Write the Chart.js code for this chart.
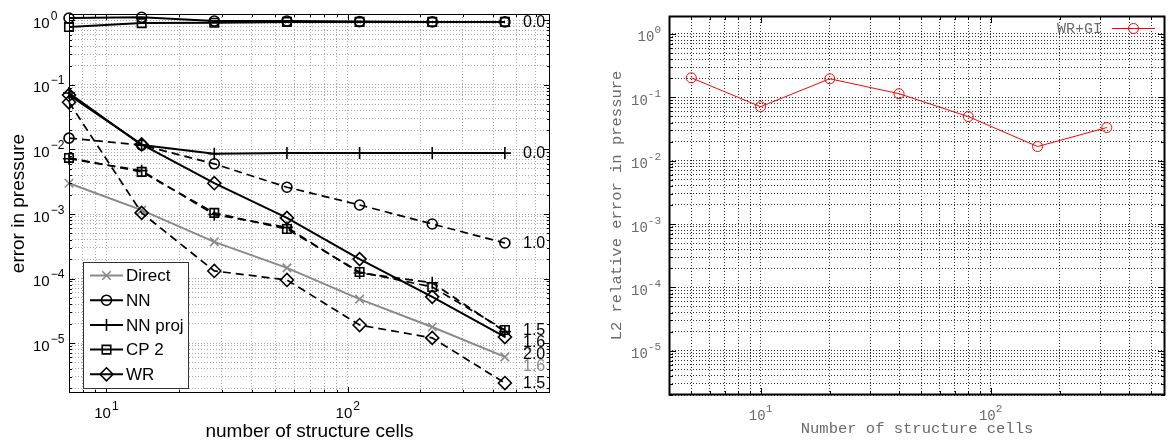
<!DOCTYPE html>
<html><head><meta charset="utf-8">
<script src="https://cdn.jsdelivr.net/npm/chart.js@4.4.0/dist/chart.umd.min.js"></script>
<style>
html,body{margin:0;padding:0;background:#fff;}
#wrap{position:relative;width:1171px;height:443px;overflow:hidden;background:#fff;}
#c1{position:absolute;left:0;top:0;}
#c2{position:absolute;left:585px;top:0;}
</style></head><body>
<div id="wrap"><canvas id="c1" width="585" height="443"></canvas><canvas id="c2" width="586" height="443"></canvas></div>
<script>
// ---------- data (left panel) ----------
const cellsLeft     = [7, 14, 28, 56, 112, 224, 448];
const directErr     = [3.0e-3, 1.15e-3, 3.7e-4, 1.46e-4, 4.8e-5, 1.77e-5, 6.1e-6];
const nnErr         = [1.09, 1.12, 0.98, 0.98, 0.96, 0.95, 0.95];
const nnErrDash     = [1.5e-2, 1.17e-2, 6.0e-3, 2.6e-3, 1.38e-3, 7.0e-4, 3.55e-4];
const nnProjErr     = [7.5e-2, 1.17e-2, 8.6e-3, 8.8e-3, 8.8e-3, 8.8e-3, 8.8e-3];
const nnProjErrDash = [7.2e-3, 4.7e-3, 9.8e-4, 6.2e-4, 1.22e-4, 8.6e-5, 1.5e-5];
const cp2Err        = [0.79, 0.91, 0.92, 0.95, 0.95, 0.95, 0.95];
const cp2ErrDash    = [7.4e-3, 4.5e-3, 1.04e-3, 5.85e-4, 1.26e-4, 7.4e-5, 1.59e-5];
const wrErr         = [7.0e-2, 1.2e-2, 3.0e-3, 8.7e-4, 2.0e-4, 5.2e-5, 1.24e-5];
const wrErrDash     = [5.4e-2, 1.04e-3, 1.31e-4, 9.5e-5, 1.9e-5, 1.2e-5, 2.4e-6];
const legendNames   = ['Direct', 'NN', 'NN proj', 'CP 2', 'WR'];
const rateDirect = '1.6', rateNN = '0.0', rateNNDash = '1.0', rateNNProj = '0.0',
      rateNNProjDash = '1.6', rateCP2Dash = '1.5', rateWR = '2.0', rateWRDash = '1.5';
const tickBase = '10';
const leftXTickVals = [10, 100];
const leftXTickExp  = ['1', '2'];
const leftYTickVals = [1e-5, 1e-4, 1e-3, 1e-2, 1e-1, 1];
const leftYTickExp  = ['\u22125', '\u22124', '\u22123', '\u22122', '\u22121', '0'];

// ---------- data (right panel) ----------
const cellsRight = [5, 10, 20, 40, 80, 160, 320];
const wrGiErr    = [0.203, 0.071, 0.196, 0.114, 0.0496, 0.0167, 0.0333];
const rightXTickVals = [10, 100];
const rightXTickExp  = ['1', '2'];
const rightYTickVals = [1e-5, 1e-4, 1e-3, 1e-2, 1e-1, 1];
const rightYTickExp  = ['-5', '-4', '-3', '-2', '-1', '0'];

// ---------- helpers ----------
function logTicks(min, max) {
  const out = [];
  for (let e = Math.floor(Math.log10(min)); e <= Math.ceil(Math.log10(max)); e++) {
    for (let m = 1; m <= 9; m++) {
      const v = parseFloat((m * Math.pow(10, e)).toPrecision(12));
      if (v >= min * 0.999999 && v <= max * 1.000001) out.push(v);
    }
  }
  return out;
}
function isPow10(v) { const l = Math.log10(v); return Math.abs(l - Math.round(l)) < 1e-9; }
function setLogTicks(scale) {
  scale.ticks = logTicks(scale.min, scale.max).map(v => ({ value: v }));
}
function drawMarker(ctx, style, r, x, y) {
  ctx.beginPath();
  if (style === 'circle') { ctx.arc(x, y, r, 0, Math.PI * 2); }
  else if (style === 'rect') { const s = r * Math.SQRT1_2; ctx.rect(x - s, y - s, 2 * s, 2 * s); }
  else if (style === 'rectRot') { ctx.moveTo(x, y - r); ctx.lineTo(x + r, y); ctx.lineTo(x, y + r); ctx.lineTo(x - r, y); ctx.closePath(); }
  else if (style === 'cross') { ctx.moveTo(x - r, y); ctx.lineTo(x + r, y); ctx.moveTo(x, y - r); ctx.lineTo(x, y + r); }
  else if (style === 'crossRot') { const s = r * Math.SQRT1_2; ctx.moveTo(x - s, y - s); ctx.lineTo(x + s, y + s); ctx.moveTo(x + s, y - s); ctx.lineTo(x - s, y + s); }
  ctx.stroke();
}
function showErr(ctx, e) { ctx.save(); ctx.fillStyle = 'red'; ctx.font = '12px sans-serif'; ctx.fillText(String(e && e.message || e), 80, 40); ctx.restore(); }

// frame with inward ticks on all four sides
const frameTicks = {
  id: 'frameTicks',
  afterDatasetsDraw(chart, args, o) {
    const { ctx, chartArea: a, scales: { x, y } } = chart;
    ctx.save();
    ctx.strokeStyle = o.color;
    ctx.lineWidth = o.tickWidth;
    ctx.setLineDash([]);
    ctx.beginPath();
    x.ticks.forEach(t => {
      const px = Math.round(x.getPixelForValue(t.value)) + 0.5;
      const len = isPow10(t.value) ? o.major : o.minor;
      ctx.moveTo(px, a.bottom); ctx.lineTo(px, a.bottom - len);
      ctx.moveTo(px, a.top); ctx.lineTo(px, a.top + len);
    });
    y.ticks.forEach(t => {
      const py = Math.round(y.getPixelForValue(t.value)) + 0.5;
      const len = isPow10(t.value) ? o.major : o.minor;
      ctx.moveTo(a.left, py); ctx.lineTo(a.left + len, py);
      ctx.moveTo(a.right, py); ctx.lineTo(a.right - len, py);
    });
    ctx.stroke();
    ctx.lineWidth = o.width;
    ctx.strokeRect(a.left + 0.5, a.top + 0.5, a.right - a.left - 1, a.bottom - a.top - 1);
    ctx.restore();
  }
};

// "10" + raised exponent tick labels, placed through the scales
const expTicks = {
  id: 'expTicks',
  afterDraw(chart, args, o) {
    const { ctx, chartArea: a, scales } = chart;
    try {
      ctx.save();
      ctx.fillStyle = o.color;
      ctx.textBaseline = 'alphabetic';
      ctx.textAlign = 'left';
      const bf = o.baseSize + 'px ' + o.family, sf = o.supSize + 'px ' + o.family;
      const widths = (e) => { ctx.font = bf; const wb = ctx.measureText(tickBase).width; ctx.font = sf; const we = ctx.measureText(e).width; return [wb, we]; };
      const put = (e, x, y) => {
        ctx.font = bf; ctx.fillText(tickBase, x, y);
        const wb = ctx.measureText(tickBase).width;
        ctx.font = sf; ctx.fillText(e, x + wb + o.gap, y - o.raise);
      };
      o.xVals.forEach((v, i) => {
        const px = scales.x.getPixelForValue(v);
        const [wb, we] = widths(o.xExp[i]);
        put(o.xExp[i], px - (wb + o.gap + we) / 2 + o.xShift, a.bottom + o.xBaseline);
      });
      o.yVals.forEach((v, i) => {
        const py = scales.y.getPixelForValue(v);
        const [wb, we] = widths(o.yExp[i]);
        const x0 = o.yAlign === 'left' ? o.yX : o.yX - (wb + o.gap + we);
        put(o.yExp[i], x0, py + o.yBaseline);
      });
      ctx.restore();
    } catch (e) { showErr(ctx, e); }
  }
};

// convergence-rate labels at the end of each curve
const rateLabelPlugin = {
  id: 'rateLabelPlugin',
  afterDraw(chart) {
    const { ctx, chartArea: a } = chart;
    try {
      const ys = chart.scales.y;
      const items = [];
      chart.data.datasets.forEach(d => {
        if (d.rateText) items.push({ d, py: ys.getPixelForValue(d.data[d.data.length - 1].y) });
      });
      items.sort((p, q) => p.py - q.py);
      let last = -1e9;
      ctx.save();
      ctx.font = '16px "Liberation Sans", Arial, sans-serif';
      ctx.textAlign = 'left';
      ctx.textBaseline = 'middle';
      items.forEach(it => {
        const py = Math.max(it.py + 1, last + 12);
        last = py;
        ctx.fillStyle = it.d.borderColor;
        ctx.fillText(it.d.rateText, a.right - 27, py);
      });
      ctx.restore();
    } catch (e) { showErr(ctx, e); }
  }
};

// MATLAB-style legend box in lower left
const matlabLegend = {
  id: 'matlabLegend',
  afterDraw(chart) {
    const { ctx } = chart;
    const items = chart.data.datasets.filter(d => d.legendIdx !== undefined).sort((p, q) => p.legendIdx - q.legendIdx);
    ctx.save();
    ctx.fillStyle = '#fff';
    ctx.fillRect(83, 262, 105, 126);
    ctx.strokeStyle = '#333';
    ctx.lineWidth = 1;
    ctx.setLineDash([]);
    ctx.strokeRect(83.5, 262.5, 105, 126);
    ctx.font = '17px "Liberation Sans", Arial, sans-serif';
    ctx.textAlign = 'left';
    ctx.textBaseline = 'middle';
    items.forEach((d, i) => {
      const cy = 275.5 + i * 24.7;
      ctx.strokeStyle = d.borderColor;
      ctx.lineWidth = 2;
      ctx.beginPath(); ctx.moveTo(90, cy); ctx.lineTo(123, cy); ctx.stroke();
      ctx.lineWidth = d.pointBorderWidth;
      drawMarker(ctx, d.pointStyle, d.pointRadius, 106.5, cy);
      ctx.fillStyle = '#000';
      ctx.fillText(legendNames[d.legendIdx], 126, cy + 1);
    });
    ctx.restore();
  }
};

// gnuplot-style key in top right
const gnuKey = {
  id: 'gnuKey',
  afterDraw(chart) {
    const { ctx } = chart;
    const d = chart.data.datasets[0];
    ctx.save();
    ctx.font = '15px "Liberation Mono", monospace';
    ctx.fillStyle = '#6a6a6a';
    ctx.textAlign = 'right';
    ctx.textBaseline = 'middle';
    ctx.fillText(d.label, 517, 29);
    ctx.strokeStyle = d.borderColor;
    ctx.lineWidth = 1;
    ctx.beginPath(); ctx.moveTo(527, 28.5); ctx.lineTo(570, 28.5); ctx.stroke();
    drawMarker(ctx, 'circle', 5, 548.5, 28.5);
    ctx.restore();
  }
};

Chart.defaults.font.family = '"Liberation Sans", Arial, sans-serif';
Chart.defaults.color = '#000';

const TRANSP = 'rgba(0,0,0,0)';
function series(label, data, o) {
  return Object.assign({
    label, data: data.map((v, i) => ({ x: cellsLeft[i], y: v })),
    borderColor: '#000', pointBorderColor: '#000', pointBackgroundColor: TRANSP,
    backgroundColor: TRANSP, borderWidth: 2, pointBorderWidth: 1.6,
    pointRadius: 5, pointHoverRadius: 5, fill: false, tension: 0, clip: false,
    borderCapStyle: 'butt'
  }, o);
}
const DASH = [8, 5];

new Chart(document.getElementById('c1'), {
  type: 'line',
  data: {
    datasets: [
      series('NN', nnErr, { pointStyle: 'circle', pointRadius: 5, legendIdx: 1, rateText: rateNN }),
      series('CP 2', cp2Err, { pointStyle: 'rect', pointRadius: 6, legendIdx: 3 }),
      series('NN proj', nnProjErr, { pointStyle: 'cross', pointRadius: 6, legendIdx: 2, rateText: rateNNProj }),
      series('WR', wrErr, { pointStyle: 'rectRot', pointRadius: 6.5, legendIdx: 4, rateText: rateWR }),
      series('NN (dashed)', nnErrDash, { pointStyle: 'circle', pointRadius: 5, borderDash: DASH, borderWidth: 1.7, rateText: rateNNDash }),
      series('NN proj (dashed)', nnProjErrDash, { pointStyle: 'cross', pointRadius: 6, borderDash: DASH, borderWidth: 1.7, rateText: rateNNProjDash }),
      series('CP 2 (dashed)', cp2ErrDash, { pointStyle: 'rect', pointRadius: 6, borderDash: DASH, borderWidth: 1.7, rateText: rateCP2Dash }),
      series('WR (dashed)', wrErrDash, { pointStyle: 'rectRot', pointRadius: 6.5, borderDash: DASH, borderWidth: 1.7, rateText: rateWRDash }),
      series('Direct', directErr, { pointStyle: 'crossRot', pointRadius: 6, borderColor: '#8a8a8a', pointBorderColor: '#8a8a8a', legendIdx: 0, rateText: rateDirect })
    ]
  },
  options: {
    responsive: false, animation: false, devicePixelRatio: 1,
    layout: { padding: { left: 33, top: 14, right: 35, bottom: 0 } },
    plugins: {
      legend: { display: false }, tooltip: { enabled: false },
      frameTicks: { color: '#000', width: 1, tickWidth: 1, major: 6, minor: 3 },
      expTicks: { family: '"Liberation Sans", Arial, sans-serif', baseSize: 15, supSize: 12, color: '#000',
                  gap: 1, raise: 8, xVals: leftXTickVals, xExp: leftXTickExp, xBaseline: 25, xShift: 0,
                  yVals: leftYTickVals, yExp: leftYTickExp, yAlign: 'left', yX: 33, yBaseline: 7.5 }
    },
    scales: {
      x: {
        type: 'logarithmic', min: 7, max: 689,
        afterBuildTicks: setLogTicks,
        afterFit: s => { s.height = 50; },
        grid: { drawTicks: false, color: '#a8a8a8', lineWidth: 1 },
        border: { display: false, dash: [1, 2] },
        ticks: { display: false, autoSkip: false },
        title: { display: true, text: 'number of structure cells', font: { size: 19 }, color: '#000', padding: { top: 0, bottom: 0 } }
      },
      y: {
        type: 'logarithmic', min: 1.68e-6, max: 1.26,
        afterBuildTicks: setLogTicks,
        afterFit: s => { s.width = 36; },
        grid: { drawTicks: false, color: '#a8a8a8', lineWidth: 1 },
        border: { display: false, dash: [1, 2] },
        ticks: { display: false, autoSkip: false },
        title: { display: true, text: 'error in pressure', font: { size: 19 }, color: '#000', padding: { top: -25.4, bottom: 0 } }
      }
    }
  },
  plugins: [frameTicks, rateLabelPlugin, matlabLegend, expTicks]
});

new Chart(document.getElementById('c2'), {
  type: 'line',
  data: {
    datasets: [{
      label: 'WR+GI',
      data: wrGiErr.map((v, i) => ({ x: cellsRight[i], y: v })),
      borderColor: '#ff0000', pointBorderColor: '#ff0000', pointBackgroundColor: TRANSP,
      backgroundColor: TRANSP, borderWidth: 1, pointBorderWidth: 1, pointStyle: 'circle',
      pointRadius: 5, pointHoverRadius: 5, tension: 0, fill: false, clip: false
    }]
  },
  options: {
    responsive: false, animation: false, devicePixelRatio: 1,
    layout: { padding: { left: 0, top: 16, right: 3, bottom: 0 } },
    plugins: {
      legend: { display: false }, tooltip: { enabled: false },
      frameTicks: { color: '#000', width: 2, tickWidth: 1, major: 7, minor: 4 },
      expTicks: { family: '"Liberation Mono", monospace', baseSize: 14, supSize: 11, color: '#6a6a6a',
                  gap: 0, raise: 8, xVals: rightXTickVals, xExp: rightXTickExp, xBaseline: 25, xShift: 0,
                  yVals: rightYTickVals, yExp: rightYTickExp, yAlign: 'right', yX: 76, yBaseline: 7.5 }
    },
    scales: {
      x: {
        type: 'logarithmic', min: 4, max: 573,
        afterBuildTicks: setLogTicks,
        afterFit: s => { s.height = 48; },
        grid: { drawTicks: false, color: '#333', lineWidth: 1 },
        border: { display: false, dash: [1, 2] },
        ticks: { display: false, autoSkip: false },
        title: { display: true, text: 'Number of structure cells', color: '#6a6a6a',
                 font: { family: '"Liberation Mono", monospace', size: 15.5 }, padding: { top: 0, bottom: 4.7 } }
      },
      y: {
        type: 'logarithmic', min: 2.0e-6, max: 1.92,
        afterBuildTicks: setLogTicks,
        afterFit: s => { s.width = 84; },
        grid: { drawTicks: false, color: '#333', lineWidth: 1 },
        border: { display: false, dash: [1, 2] },
        ticks: { display: false, autoSkip: false },
        title: { display: true, text: 'L2 relative error in pressure', color: '#6a6a6a',
                 font: { family: '"Liberation Mono", monospace', size: 15.5 }, padding: { top: 22.7, bottom: 0 } }
      }
    }
  },
  plugins: [frameTicks, gnuKey, expTicks]
});
</script>
</body></html>
